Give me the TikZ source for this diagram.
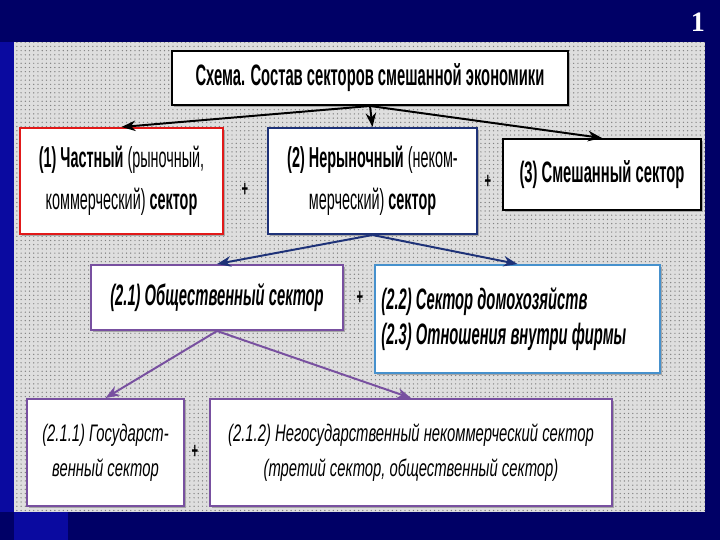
\documentclass[tikz,border=0pt]{standalone}
\usepackage{fontspec}
\setmainfont{Liberation Sans}[FakeStretch=0.5]
\newfontfamily\lowerfont{Liberation Sans}[FakeStretch=0.62]
\newfontfamily\numfont{Liberation Serif}
\usepackage{tikz}
\usetikzlibrary{arrows.meta,patterns,shadows}
\definecolor{slideblue}{RGB}{0,0,102}
\definecolor{stripblue}{RGB}{10,10,160}
\definecolor{myred}{RGB}{225,25,25}
\definecolor{mynavy}{RGB}{30,50,120}
\definecolor{mypurple}{RGB}{120,80,160}
\definecolor{mylightblue}{RGB}{70,145,205}
\definecolor{panelgray}{RGB}{222,222,222}

\begin{document}
\begin{tikzpicture}[x=0.025cm, y=-0.025cm,
    box/.style={draw, fill=white, line width=1.4pt, align=center, inner sep=0pt,
        drop shadow={shadow xshift=1.6pt, shadow yshift=-1.6pt, fill=gray!70, opacity=1}},
    plus/.style={inner sep=0pt, font=\bfseries\fontsize{16}{16}\selectfont},
    arr/.style={line width=1.4pt, -{Stealth[length=10pt, width=7.5pt]}}]
    % slide background
    \fill[slideblue] (0,0) rectangle (720,540);
    \fill[stripblue] (0,42) rectangle (14,512);
    \fill[stripblue] (14,512) rectangle (68,540);
    \node[text=white, font=\numfont\bfseries\fontsize{20}{20}\selectfont] (num) at (698,22) {1};
    \fill[panelgray] (14,42) rectangle (705,512);
    \fill[pattern=dots, pattern color=gray] (14,42) rectangle (705,512);

    % first level
    \node[box, minimum width=9.9cm, minimum height=1.35cm,
          font=\bfseries\fontsize{21}{24}\selectfont] (title) at (370,78)
          {Схема. Состав секторов смешанной экономики};
    \node[box, draw=myred, minimum width=5.075cm, minimum height=2.65cm,
          font=\fontsize{20.5}{30}\selectfont] (priv) at (121.5,181)
          {\textbf{(1) Частный} (рыночный,\\коммерческий) \textbf{сектор}};
    \node[box, draw=mynavy, minimum width=5.225cm, minimum height=2.65cm,
          font=\fontsize{20.5}{30}\selectfont] (nonmkt) at (372.5,181)
          {\textbf{(2) Нерыночный} (неком-\\мерческий) \textbf{сектор}};
    \node[box, minimum width=4.95cm, minimum height=1.775cm,
          font=\bfseries\fontsize{21}{24}\selectfont] (mixed) at (602,174.5)
          {(3) Смешанный сектор};
    \node[plus] (p1) at (245,190) {+};
    \node[plus] (p2) at (488,182) {+};

    % second level
    \node[box, draw=mypurple, minimum width=6.3cm, minimum height=1.625cm,
          font=\bfseries\itshape\fontsize{21}{24}\selectfont] (public) at (217,297.5)
          {(2.1) Общественный сектор};
    \node[box, draw=mylightblue, minimum width=7.125cm, minimum height=2.7cm,
          text width=6.8cm, align=flush left,
          font=\bfseries\itshape\fontsize{21}{25}\selectfont] (house) at (517.5,319)
          {(2.2) Сектор домохозяйств\\(2.3) Отношения внутри фирмы};
    \node[plus] (p3) at (360,298) {+};

    % third level
    \node[box, draw=mypurple, minimum width=3.925cm, minimum height=2.675cm,
          font=\lowerfont\itshape\fontsize{17}{25}\selectfont] (state) at (105.5,452.5)
          {(2.1.1) Государст-\\венный сектор};
    \node[box, draw=mypurple, minimum width=10.05cm, minimum height=2.675cm,
          font=\lowerfont\itshape\fontsize{17}{25}\selectfont] (third) at (411,452.5)
          {(2.1.2) Негосударственный некоммерческий сектор\\(третий сектор, общественный сектор)};
    \node[plus] (p4) at (195,452) {+};

    \draw[arr] (title.south) -- (priv.north);
    \draw[arr] (title.south) -- (nonmkt.north);
    \draw[arr] (title.south) -- (mixed.north);
    \draw[arr, mynavy] (nonmkt.south) -- (public.north);
    \draw[arr, mynavy] (nonmkt.south) -- (house.north);
    \draw[arr, mypurple] (public.south) -- (state.north);
    \draw[arr, mypurple] (public.south) -- (third.north);
\end{tikzpicture}
\end{document}
